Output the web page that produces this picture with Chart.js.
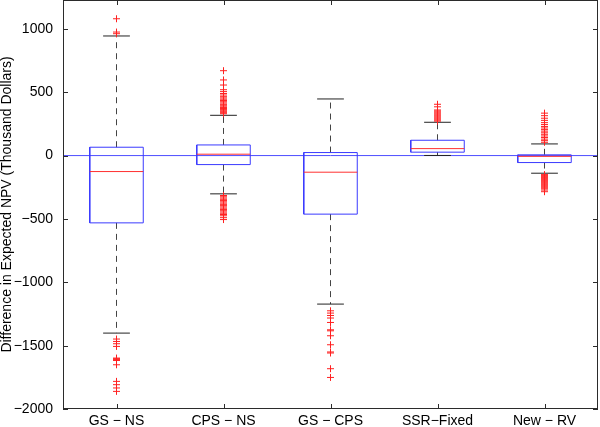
<!DOCTYPE html>
<html>
<head>
<meta charset="utf-8">
<script src="https://cdn.jsdelivr.net/npm/chart.js@4.4.0/dist/chart.umd.min.js"></script>
<style>
  html, body { margin: 0; padding: 0; background: #fff; }
  canvas { display: block; }
</style>
</head>
<body>
<canvas id="npvChart" width="600" height="427"></canvas>
<script>
// Box plot values (thousand dollars)
const categories = ['GS − NS', 'CPS − NS', 'GS − CPS', 'SSR−Fixed', 'New − RV'];
const q1 = [-531, -71, -462, 27, -55];
const medians = [-126, 11, -131, 55, -6];
const q3 = [66, 84, 24, 121, 6];
const whiskerLow = [-1401, -302, -1172, 1, -139];
const whiskerHigh = [944, 318, 447, 263, 92];

const outliersGsNs = [1080, 975, 962, -1448, -1467, -1485, -1506, -1598, -1603, -1610, -1617, -1651, -1782, -1808, -1834, -1861];
const outliersCpsNs = [670, 597, 557, 520, 505, 490, 478, 465, 455, 445, 435, 425, 415, 405, 398, 390, 380, 372, 365, 358, 350, 343, 337, 330,
  -315, -325, -335, -345, -355, -365, -375, -385, -395, -405, -415, -425, -435, -445, -455, -465, -475, -490, -505];
const outliersGsCps = [-1225, -1243, -1262, -1282, -1317, -1375, -1383, -1422, -1493, -1550, -1558, -1682, -1751];
const outliersSsr = [272, 280, 288, 296, 304, 312, 320, 328, 336, 344, 352, 360, 385, 405];
const outliersNewRv = [105, 118, 130, 143, 155, 168, 180, 193, 205, 218, 230, 245, 260, 278, 295, 315, 335,
  -150, -158, -166, -174, -182, -190, -198, -206, -214, -222, -230, -238, -246, -254, -262, -272, -285];
const outliers = [outliersGsNs, outliersCpsNs, outliersGsCps, outliersSsr, outliersNewRv];

const yTicks = [-2000, -1500, -1000, -500, 0, 500, 1000];
const yMin = -2000;
const yMax = 1228;

const boxHalf = 0.25;
const capHalf = 0.125;

// build line segments, separated by null points
const gap = x => ({ x: x, y: null });
const boxPts = [], medianPts = [], whiskerPts = [], capPts = [], outlierPts = [];
categories.forEach((c, i) => {
  const x = i + 1;
  boxPts.push({ x: x - boxHalf, y: q1[i] }, { x: x + boxHalf, y: q1[i] }, { x: x + boxHalf, y: q3[i] },
    { x: x - boxHalf, y: q3[i] }, { x: x - boxHalf, y: q1[i] }, gap(x));
  medianPts.push({ x: x - boxHalf, y: medians[i] }, { x: x + boxHalf, y: medians[i] }, gap(x));
  whiskerPts.push({ x: x, y: q3[i] }, { x: x, y: whiskerHigh[i] }, gap(x),
    { x: x, y: q1[i] }, { x: x, y: whiskerLow[i] }, gap(x));
  capPts.push({ x: x - capHalf, y: whiskerHigh[i] }, { x: x + capHalf, y: whiskerHigh[i] }, gap(x),
    { x: x - capHalf, y: whiskerLow[i] }, { x: x + capHalf, y: whiskerLow[i] }, gap(x));
  outliers[i].forEach(v => outlierPts.push({ x: x, y: v }));
});

// MATLAB style frame with inward ticks
const frameTicks = {
  id: 'frameTicks',
  afterDatasetsDraw(chart) {
    const { ctx, chartArea: a, scales } = chart;
    ctx.save();
    ctx.strokeStyle = '#2b2b2b';
    ctx.lineWidth = 1;
    ctx.strokeRect(a.left + 0.5, a.top + 0.5, a.right - a.left - 1, a.bottom - a.top - 1);
    ctx.beginPath();
    scales.y.ticks.forEach(t => {
      const py = Math.round(scales.y.getPixelForValue(t.value)) + 0.5;
      ctx.moveTo(a.left, py); ctx.lineTo(a.left + 5, py);
      ctx.moveTo(a.right, py); ctx.lineTo(a.right - 5, py);
    });
    scales.x.ticks.forEach(t => {
      const px = Math.round(scales.x.getPixelForValue(t.value)) + 0.5;
      ctx.moveTo(px, a.top); ctx.lineTo(px, a.top + 5);
      ctx.moveTo(px, a.bottom); ctx.lineTo(px, a.bottom - 5);
    });
    ctx.stroke();
    ctx.restore();
  }
};

Chart.defaults.font.family = "'Liberation Sans', Arial, sans-serif";
Chart.defaults.font.size = 14;
Chart.defaults.color = '#000';

const ctx = document.getElementById('npvChart').getContext('2d');
new Chart(ctx, {
  type: 'scatter',
  data: {
    datasets: [
      {
        label: 'outliers',
        data: outlierPts,
        showLine: false,
        pointStyle: 'cross',
        pointRadius: 3.5,
        pointBorderColor: '#ff2020',
        pointBorderWidth: 1,
        order: 0
      },
      {
        label: 'median',
        data: medianPts,
        showLine: true,
        borderColor: '#ff3030',
        borderWidth: 1,
        pointRadius: 0,
        order: 1
      },
      {
        label: 'box',
        data: boxPts,
        showLine: true,
        borderColor: '#3a3aff',
        borderWidth: 1,
        pointRadius: 0,
        order: 2
      },
      {
        label: 'caps',
        data: capPts,
        showLine: true,
        borderColor: '#222',
        borderWidth: 1,
        pointRadius: 0,
        order: 3
      },
      {
        label: 'whiskers',
        data: whiskerPts,
        showLine: true,
        borderColor: '#444',
        borderWidth: 1,
        borderDash: [6, 5],
        pointRadius: 0,
        order: 4
      },
      {
        label: 'zero',
        data: [{ x: 0.5, y: 0 }, { x: 5.5, y: 0 }],
        showLine: true,
        borderColor: '#4d4dff',
        borderWidth: 1,
        pointRadius: 0,
        order: 5
      }
    ]
  },
  options: {
    responsive: false,
    animation: false,
    layout: { autoPadding: false, padding: { top: 0, right: 2, left: 0, bottom: 0 } },
    plugins: {
      legend: { display: false },
      tooltip: { enabled: false }
    },
    scales: {
      x: {
        type: 'linear',
        min: 0.5,
        max: 5.5,
        grid: { display: false, drawTicks: false },
        border: { display: false },
        ticks: {
          padding: 4,
          callback: v => categories[v - 1] || ''
        },
        afterBuildTicks: s => { s.ticks = categories.map((c, i) => ({ value: i + 1 })); },
        afterFit: s => { s.height = 18; s.paddingLeft = 0; s.paddingRight = 0; }
      },
      y: {
        min: yMin,
        max: yMax,
        grid: { display: false, drawTicks: false },
        border: { display: false },
        ticks: {
          padding: 10,
          callback: v => String(v).replace('-', '−')
        },
        afterBuildTicks: s => { s.ticks = yTicks.map(v => ({ value: v })); },
        afterFit: s => { s.width = 63; s.paddingTop = 0; s.paddingBottom = 0; },
        title: {
          display: true,
          text: 'Difference in Expected NPV (Thousand Dollars)',
          font: { size: 14, lineHeight: 0.95 },
          padding: 0
        }
      }
    }
  },
  plugins: [frameTicks]
});
</script>
</body>
</html>
